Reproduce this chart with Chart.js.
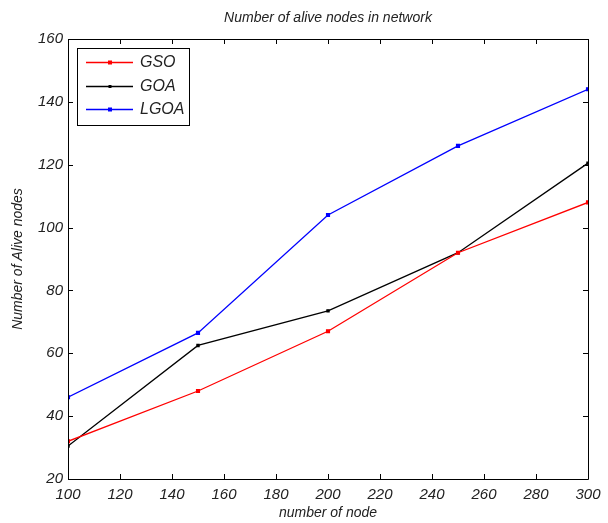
<!DOCTYPE html>
<html>
<head>
<meta charset="utf-8">
<title>Number of alive nodes in network</title>
<script src="https://cdn.jsdelivr.net/npm/chart.js@4/dist/chart.umd.min.js"></script>
<style>
    html, body { margin: 0; padding: 0; background: #fff; }
    #wrap { width: 608px; height: 523px; }
</style>
</head>
<body>
<div id="wrap"><canvas id="aliveChart" width="608" height="523"></canvas></div>
<script>
// Data
const nodeCounts = [100, 150, 200, 250, 300];
const gsoAlive = [32, 48, 67, 92, 108];
const goaAlive = [30.5, 62.5, 73.5, 92, 120.5];
const lgoaAlive = [46, 66.5, 104, 126, 144];

const FONT = '"Liberation Sans", Arial, sans-serif';

Chart.defaults.font.family = FONT;
Chart.defaults.font.style = 'italic';
Chart.defaults.font.size = 15;
Chart.defaults.color = '#222';

function toPoints(values) {
    return nodeCounts.map((n, i) => ({ x: n, y: values[i] }));
}

// Box, inward ticks, titles and legend drawn MATLAB-style
const matlabFrame = {
    id: 'matlabFrame',
    afterDraw(chart) {
        const ctx = chart.ctx;
        const area = chart.chartArea;
        const xs = chart.scales.x;
        const ys = chart.scales.y;
        const tick = 5;

        ctx.save();
        ctx.strokeStyle = '#000';
        ctx.lineWidth = 1;

        // frame
        ctx.beginPath();
        ctx.rect(Math.round(area.left) + 0.5, Math.round(area.top) + 0.5,
            Math.round(area.right - area.left), Math.round(area.bottom - area.top));
        ctx.stroke();

        // ticks
        ctx.beginPath();
        xs.ticks.forEach(t => {
            const px = Math.round(xs.getPixelForValue(t.value)) + 0.5;
            ctx.moveTo(px, area.bottom);
            ctx.lineTo(px, area.bottom - tick);
            ctx.moveTo(px, area.top);
            ctx.lineTo(px, area.top + tick);
        });
        ys.ticks.forEach(t => {
            const py = Math.round(ys.getPixelForValue(t.value)) + 0.5;
            ctx.moveTo(area.left, py);
            ctx.lineTo(area.left + tick, py);
            ctx.moveTo(area.right, py);
            ctx.lineTo(area.right - tick, py);
        });
        ctx.stroke();

        // title and axis labels
        ctx.fillStyle = '#222';
        ctx.textAlign = 'center';
        ctx.textBaseline = 'middle';
        ctx.font = 'italic 14px ' + FONT;
        ctx.fillText('Number of alive nodes in network', (area.left + area.right) / 2, 18);
        ctx.fillText('number of node', (area.left + area.right) / 2, 513);
        ctx.save();
        ctx.translate(18, (area.top + area.bottom) / 2);
        ctx.rotate(-Math.PI / 2);
        ctx.fillText('Number of Alive nodes', 0, 0);
        ctx.restore();

        // legend
        const lx = 77, ly = 48, lw = 112, lh = 77;
        ctx.fillStyle = '#fff';
        ctx.fillRect(lx, ly, lw, lh);
        ctx.strokeStyle = '#000';
        ctx.strokeRect(lx + 0.5, ly + 0.5, lw, lh);
        ctx.font = 'italic 16px ' + FONT;
        ctx.textAlign = 'left';
        chart.data.datasets.forEach((ds, i) => {
            const y = 62 + i * 23.5;
            ctx.strokeStyle = ds.borderColor;
            ctx.lineWidth = ds.borderWidth;
            ctx.beginPath();
            ctx.moveTo(86, Math.round(y) + 0.5);
            ctx.lineTo(133, Math.round(y) + 0.5);
            ctx.stroke();
            ctx.fillStyle = ds.borderColor;
            const m = ds.pointRadius;
            ctx.fillRect(110 - m, Math.round(y) + 0.5 - m, m * 2, m * 2);
            ctx.fillStyle = '#222';
            ctx.fillText(ds.label, 140, y + 1);
        });
        ctx.restore();
    }
};

function makeDataset(label, values, color, radius) {
    return {
        label: label,
        data: toPoints(values),
        borderColor: color,
        backgroundColor: color,
        borderWidth: 1.3,
        pointStyle: 'rect',
        pointRadius: radius,
        pointHoverRadius: radius,
        tension: 0
    };
}

new Chart(document.getElementById('aliveChart'), {
    type: 'line',
    data: {
        datasets: [
            makeDataset('GSO', gsoAlive, '#ff0000', 2),
            makeDataset('GOA', goaAlive, '#000000', 1.5),
            makeDataset('LGOA', lgoaAlive, '#0000ff', 2)
        ]
    },
    options: {
        responsive: false,
        animation: false,
        layout: { padding: { top: 39, right: 20, left: 0, bottom: 0 } },
        plugins: {
            legend: { display: false },
            title: { display: false },
            tooltip: { enabled: false }
        },
        scales: {
            x: {
                type: 'linear',
                min: 100,
                max: 300,
                afterFit: s => { s.height = 44; },
                border: { display: false },
                grid: { drawOnChartArea: false, drawTicks: false },
                ticks: {
                    stepSize: 20,
                    padding: 7,
                    color: '#222',
                    font: { style: 'italic', size: 15 }
                }
            },
            y: {
                min: 20,
                max: 160,
                afterFit: s => { s.width = 68; },
                border: { display: false },
                grid: { drawOnChartArea: false, drawTicks: false },
                ticks: {
                    stepSize: 20,
                    padding: 5,
                    color: '#222',
                    font: { style: 'italic', size: 15 }
                }
            }
        }
    },
    plugins: [matlabFrame]
});
</script>
</body>
</html>
